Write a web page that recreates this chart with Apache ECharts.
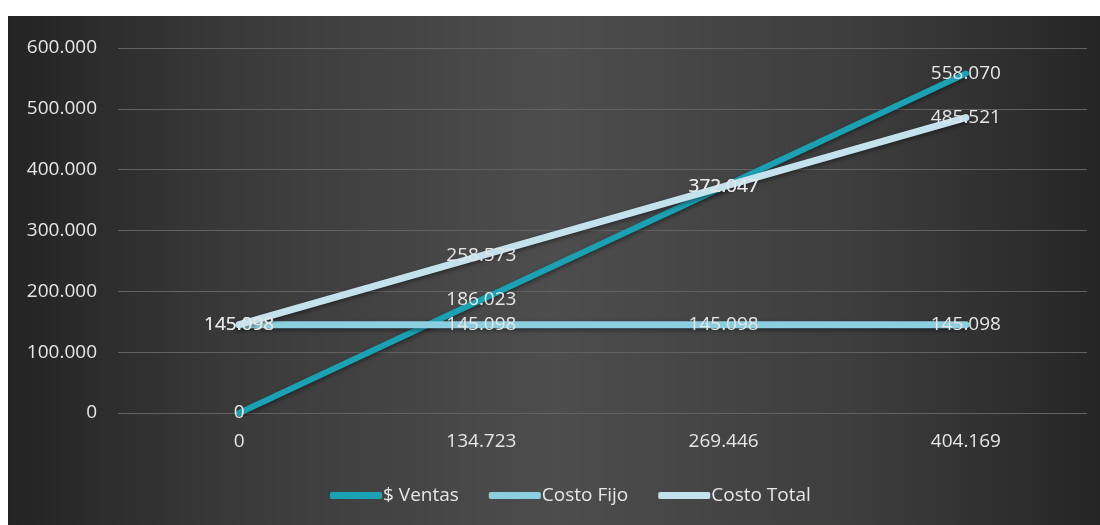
<!DOCTYPE html>
<html>
<head>
<meta charset="utf-8">
<script src="https://cdn.jsdelivr.net/npm/echarts@6/dist/echarts.min.js"></script>
<style>
  html, body { margin: 0; padding: 0; background: #ffffff; width: 1100px; height: 525px; overflow: hidden; }
  #chart { position: absolute; left: 8px; top: 16px; width: 1092px; height: 509px; }
</style>
</head>
<body>
<div id="chart"></div>
<script>
// Break-even chart: units on the x axis, money on the y axis
const categories = [0, 134723, 269446, 404169];
const ventas = [0, 186023, 372047, 558070];
const costoFijo = [145098, 145098, 145098, 145098];
const costoTotal = [145098, 258573, 372047, 485521];
const seriesNames = ['$ Ventas', 'Costo Fijo', 'Costo Total'];
const seriesColors = ['#1aa2b4', '#8ccfe0', '#c3e2ed'];

// Spanish-style thousands separator
function fmt(v) {
  return String(Math.round(v)).replace(/\B(?=(\d{3})+(?!\d))/g, '.');
}

const FONT = 'Open Sans';
const TXT = '#e6e6e6';
const FS = 19;

const chart = echarts.init(document.getElementById('chart'));

function lineSeries(name, data, color, width) {
  return {
    name: name,
    type: 'line',
    data: data,
    symbol: 'circle',
    symbolSize: 0.1,
    itemStyle: { color: color },
    lineStyle: {
      color: color,
      width: width,
      cap: 'round',
      shadowColor: 'rgba(0,0,0,0.45)',
      shadowBlur: 4,
      shadowOffsetY: 2
    },
    label: {
      show: true,
      position: 'inside',
      color: TXT,
      fontFamily: FONT,
      fontSize: FS,
      formatter: p => fmt(p.value)
    },
    emphasis: { disabled: true },
    animation: false
  };
}

chart.setOption({
  backgroundColor: {
    type: 'linear', x: 0, y: 0, x2: 1, y2: 0,
    colorStops: [
      { offset: 0, color: '#232323' },
      { offset: 0.22, color: '#3b3b3b' },
      { offset: 0.5, color: '#4d4d4d' },
      { offset: 0.78, color: '#3d3d3d' },
      { offset: 1, color: '#252525' }
    ]
  },
  animation: false,
  grid: { left: 110, right: 13, top: 32, bottom: 112 },
  xAxis: {
    type: 'category',
    data: categories.map(fmt),
    boundaryGap: true,
    axisLine: { show: false },
    axisTick: { show: false },
    axisLabel: { color: TXT, fontFamily: FONT, fontSize: FS, margin: 19 }
  },
  yAxis: {
    type: 'value',
    min: 0, max: 600000, interval: 100000,
    axisLine: { show: false },
    axisTick: { show: false },
    splitLine: { lineStyle: { color: '#626262', width: 1 } },
    axisLabel: { color: TXT, fontFamily: FONT, fontSize: FS, margin: 21, formatter: v => fmt(v) }
  },
  legend: {
    bottom: 15,
    left: 317,
    icon: 'roundRect',
    itemWidth: 52,
    itemHeight: 7,
    itemGap: 30,
    textStyle: { color: TXT, fontFamily: FONT, fontSize: FS, padding: [0, 0, 0, -4] },
    data: seriesNames
  },
  series: [
    lineSeries(seriesNames[0], ventas, seriesColors[0], 6),
    lineSeries(seriesNames[1], costoFijo, seriesColors[1], 7),
    lineSeries(seriesNames[2], costoTotal, seriesColors[2], 7)
  ]
});
</script>
</body>
</html>
